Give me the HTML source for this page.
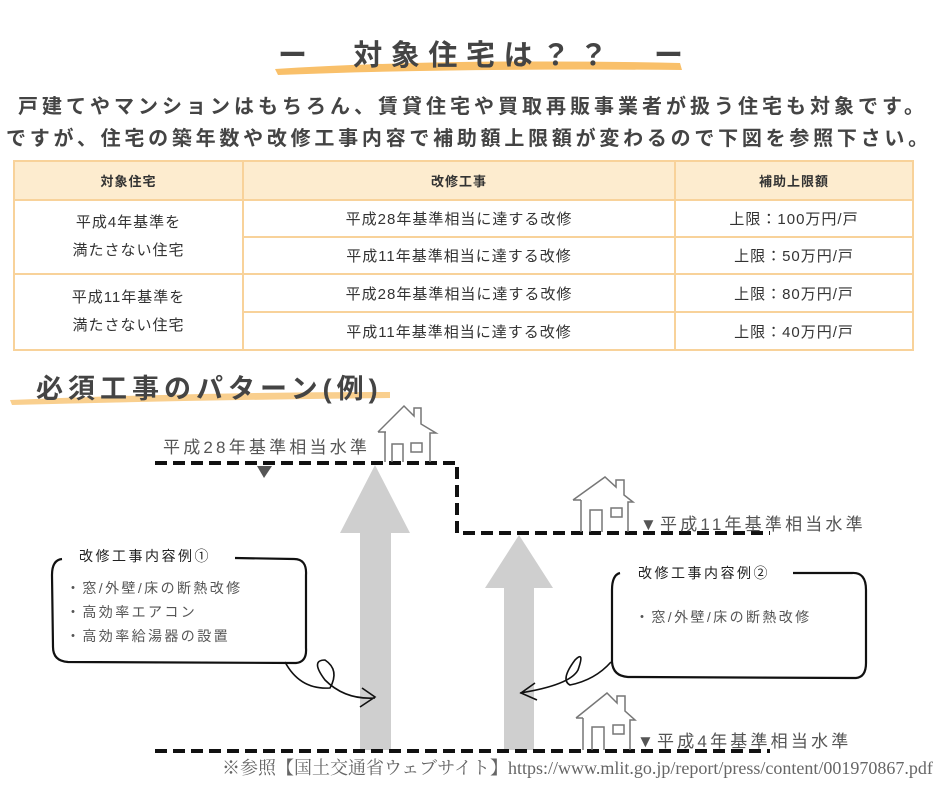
<!DOCTYPE html>
<html><head><meta charset="utf-8"><style>
body{margin:0;width:940px;height:788px;background:#fff;overflow:hidden;position:relative;font-family:"Liberation Sans","Noto Sans CJK JP",sans-serif;color:#555}
.a{position:absolute;white-space:nowrap}
table{position:absolute;left:13px;top:160px;border-collapse:collapse;font-size:15px;color:#333;table-layout:fixed;width:901px;letter-spacing:1px}
td{border:2px solid #f8d29a;text-align:center;padding:0}
th{border:2px solid #f8d29a;background:#fdeccf;font-size:13px;font-weight:bold;height:35px;color:#333}
</style></head><body>
<svg class="a" style="left:0;top:0" width="940" height="788">
<path d="M275 69 Q450 58 680 63 L682 70 Q450 68 278 75Z" fill="#f9c06a"/>
<path d="M10 400 Q200 392 390 392 L390 398 Q200 400 12 405Z" fill="#f9cf8e"/>
<g fill="#cfcfcf"><path d="M375 465 L410 533 L391 533 L391 750 L360 750 L360 533 L340 533Z"/><path d="M519 535 L553 588 L534 588 L534 750 L504 750 L504 588 L485 588Z"/></g>
<g stroke="#111" stroke-width="4" fill="none" stroke-dasharray="12,6"><path d="M155 463 H457 V533 H770"/><path d="M155 751 H770"/></g>
<path d="M257 466 L272 466 L264 478Z" fill="#555"/>
<g stroke="#777" stroke-width="1.5" fill="none">
<path d="M378 432 L404 406 L414 416 L414 408 L421 408 L421 424 L436 433 L430 433 L430 462 M385 432 L385 462 M378 432 L386 432"/><path d="M392 462 V444 H403 V462 M411 443 H422 V452 H411Z"/>
<path d="M573 500 L605 477 L616 487 L616 480 L624 480 L624 495 L633 502 L628 502 L628 532 M581 500 L581 532 M573 500 L581 500"/><path d="M590 532 V510 H602 V532 M611 508 H622 V517 H611Z"/>
<path d="M576 718 L607 693 L617 703 L617 696 L625 696 L625 711 L635 720 L630 720 L630 750 M583 718 L583 750 M576 718 L583 718"/><path d="M592 750 V727 H604 V750 M613 725 H624 V734 H613Z"/>
</g>
<g stroke="#111" stroke-width="2.2" fill="none">
<path d="M62 559 Q52 560 52 575 L53 647 Q53 661 68 662 L296 663 Q307 662 306 648 L306 575 Q307 559 294 559 L235 558"/>
<path d="M285 662 Q300 690 330 688 Q340 670 325 660 Q310 660 325 680 Q345 700 375 698 M362 688 L375 697 L360 707" stroke-width="1.6"/>
<path d="M620 573 Q612 575 612 590 L612 662 Q613 676 628 677 L856 678 Q866 677 866 663 L866 590 Q866 572 852 573 L793 573"/>
<path d="M611 662 Q595 680 570 685 Q560 680 575 660 Q585 650 578 670 Q570 685 520 693 M535 683 L521 693 L537 700" stroke-width="1.6"/>
</g>
</svg>
<div class="a" style="left:278px;top:32px;font-size:29px;font-weight:bold;color:#444;letter-spacing:8.6px">ー　対象住宅は？？　ー</div>
<div class="a" style="left:18px;top:90px;font-size:20px;font-weight:bold;color:#444;letter-spacing:4.0px">戸建てやマンションはもちろん、賃貸住宅や買取再販事業者が扱う住宅も対象です。</div>
<div class="a" style="left:6px;top:122px;font-size:20px;font-weight:bold;color:#444;letter-spacing:3.75px">ですが、住宅の築年数や改修工事内容で補助額上限額が変わるので下図を参照下さい。</div>
<table>
<tr><th style="width:225px">対象住宅</th><th style="width:428px">改修工事</th><th>補助上限額</th></tr>
<tr style="height:37px"><td rowspan="2" style="line-height:28px">平成4年基準を<br>満たさない住宅</td><td>平成28年基準相当に達する改修</td><td>上限：100万円/戸</td></tr>
<tr style="height:37px"><td>平成11年基準相当に達する改修</td><td>上限：50万円/戸</td></tr>
<tr style="height:38px"><td rowspan="2" style="line-height:28px">平成11年基準を<br>満たさない住宅</td><td>平成28年基準相当に達する改修</td><td>上限：80万円/戸</td></tr>
<tr style="height:38px"><td>平成11年基準相当に達する改修</td><td>上限：40万円/戸</td></tr>
</table>
<div class="a" style="left:36px;top:367px;font-size:27px;font-weight:bold;color:#444;letter-spacing:5px">必須工事のパターン(例)</div>
<div class="a" style="left:163px;top:433px;font-size:17px;letter-spacing:3.2px">平成28年基準相当水準</div>
<div class="a" style="left:640px;top:510px;font-size:17px;letter-spacing:3.2px">▼平成11年基準相当水準</div>
<div class="a" style="left:637px;top:727px;font-size:17px;letter-spacing:3.2px">▼平成4年基準相当水準</div>
<div class="a" style="left:79px;top:546px;font-size:14px;color:#222;letter-spacing:2.5px">改修工事内容例①</div>
<div class="a" style="left:66px;top:576px;font-size:14px;line-height:24px;letter-spacing:2.4px">・窓/外壁/床の断熱改修<br>・高効率エアコン<br>・高効率給湯器の設置</div>
<div class="a" style="left:638px;top:563px;font-size:14px;color:#222;letter-spacing:2.5px">改修工事内容例②</div>
<div class="a" style="left:635px;top:607px;font-size:14px;letter-spacing:2.4px">・窓/外壁/床の断熱改修</div>
<div class="a" style="left:222px;top:754px;font-size:18px;font-family:'Liberation Serif','Noto Serif CJK SC',serif;color:#666">※参照【国土交通省ウェブサイト】https://www.mlit.go.jp/report/press/content/001970867.pdf</div>
</body></html>
